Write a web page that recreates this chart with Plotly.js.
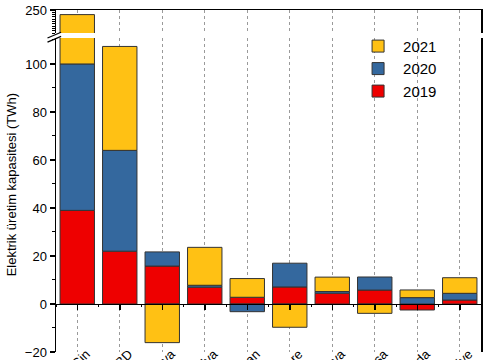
<!DOCTYPE html>
<html>
<head>
<meta charset="utf-8">
<script src="https://cdn.plot.ly/plotly-3.0.1.min.js"></script>
<style>html,body{margin:0;padding:0;overflow:hidden;background:#fff}</style>
</head>
<body>
<div id="chart" style="width:485px;height:400px"></div>
<script>
// Data (TWh change per year)
const categories = ["Çin","ABD","Almanya","Brezilya","Hindistan","İngiltere","İspanya","Fransa","Kanada","Türkiye"];
const years = ["2019","2020","2021"];
const v2019 = [39, 22, 15.8, 7.0, 2.8, 7.1, 4.5, 5.8, -2.5, 1.65];
const v2020 = [61, 42, 5.9, 0.8, -3.2, 9.9, 0.7, 5.45, 2.65, 2.8];
const v2021 = [148, 43.3, -16.1, 15.8, 7.8, -9.7, 6.0, -3.9, 3.2, 6.5];
const colors = ["#EE0000", "#34689E", "#FFC114"];
const yTickVals = [-20, 0, 20, 40, 60, 80, 100];
const yTopTickVals = [250];

const series = [v2019, v2020, v2021];
const FONT = "Arial, 'Liberation Sans', sans-serif";

const lowerRange = [-20, 110.8];
const upperRange = [240, 250];
const lowerDomain = [0, 0.918];
const upperDomain = [0.9327, 1];

const traces = [];
series.forEach((vals, i) => {
  const base = {
    type: "bar", x: categories, y: vals, name: years[i],
    marker: {color: colors[i], line: {color: "#333333", width: 1}},
    hoverinfo: "x+y+name"
  };
  traces.push(Object.assign({}, base, {xaxis: "x", yaxis: "y", legendgroup: years[i]}));
  traces.push(Object.assign({}, base, {xaxis: "x2", yaxis: "y2", legendgroup: years[i], showlegend: false}));
});
// carrier (draws nothing) so that the zero-position category axis with ticks is laid out
traces.push({
  type: "scatter", mode: "none", x: categories.map((c, i) => i), y: v2019,
  xaxis: "x3", yaxis: "y", showlegend: false, hoverinfo: "skip"
});

const zeroPos = lowerDomain[0] + (lowerDomain[1] - lowerDomain[0]) * (0 - lowerRange[0]) / (lowerRange[1] - lowerRange[0]);

const layout = {
  width: 485, height: 400,
  margin: {l: 56, r: 4, t: 10, b: 48},
  paper_bgcolor: "#fff", plot_bgcolor: "#fff",
  font: {family: FONT, size: 13, color: "#000"},
  barmode: "relative",
  bargap: 0.19,
  showlegend: true,
  legend: {
    x: 0.699, y: 0.942, xanchor: "left", yanchor: "top",
    traceorder: "reversed", font: {family: FONT, size: 15, color: "#000"},
    bgcolor: "rgba(0,0,0,0)", tracegroupgap: 0, itemwidth: 40
  },
  xaxis: {
    type: "category", categoryorder: "array", categoryarray: categories,
    anchor: "y", domain: [0, 1], range: [-0.5, categories.length - 0.5],
    showline: false, ticks: "", tickangle: -45,
    ticklabelstandoff: -9, ticklabelshift: 9,
    showgrid: true, gridcolor: "#9a9a9a", griddash: "dot", gridwidth: 1,
    zeroline: false, tickfont: {family: FONT, size: 13, color: "#000"}
  },
  xaxis2: {
    matches: "x", anchor: "y2", side: "top", domain: [0, 1],
    showline: true, linecolor: "#000", linewidth: 1.5,
    ticks: "", showticklabels: false,
    showgrid: true, gridcolor: "#9a9a9a", griddash: "dot", gridwidth: 1, zeroline: false
  },
  xaxis3: {
    type: "linear", overlaying: "x", anchor: "free", position: zeroPos,
    range: [-0.5, categories.length - 0.5], tick0: 0, dtick: 1,
    showline: true, linecolor: "#000", linewidth: 1.5,
    ticks: "outside", ticklen: 5, tickwidth: 1.5, tickcolor: "#000",
    minor: {ticks: "outside", ticklen: 2, tickwidth: 1, tickcolor: "#000", tick0: 0, dtick: 0.5},
    showticklabels: false, showgrid: false, zeroline: false
  },
  yaxis: {
    anchor: "x", domain: lowerDomain, range: lowerRange,
    tickvals: yTickVals, ticks: "outside", ticklen: 5, tickwidth: 1.5, tickcolor: "#000",
    minor: {ticks: "outside", ticklen: 3, tickwidth: 1, tickcolor: "#000", dtick: 10, tick0: 0},
    showline: true, linecolor: "#000", linewidth: 1.5, mirror: true,
    showgrid: false, zeroline: false,
    tickfont: {family: FONT, size: 13, color: "#000"}
  },
  yaxis2: {
    anchor: "x2", domain: upperDomain, range: upperRange,
    tickvals: yTopTickVals, ticks: "outside", ticklen: 5, tickwidth: 1.5, tickcolor: "#000",
    minor: {ticks: "outside", ticklen: 3, tickwidth: 1, tickcolor: "#000", dtick: 1, tick0: 0},
    showline: true, linecolor: "#000", linewidth: 1.5, mirror: true,
    showgrid: false, zeroline: false,
    tickfont: {family: FONT, size: 13, color: "#000"}
  },
  annotations: [{
    text: "Elektrik üretim kapasitesi (TWh)", xref: "paper", yref: "paper",
    x: -0.106, y: 0.49, xanchor: "center", yanchor: "middle", textangle: -90,
    showarrow: false, font: {family: FONT, size: 13, color: "#000"}
  }],
  shapes: [
    {type: "line", xref: "paper", yref: "paper", x0: -0.02, y0: 0.918, x1: 0.012, y1: 0.935, line: {color: "#000", width: 1.2}},
    {type: "line", xref: "paper", yref: "paper", x0: -0.02, y0: 0.906, x1: 0.012, y1: 0.923, line: {color: "#000", width: 1.2}}
  ]
};

Plotly.newPlot("chart", traces, layout, {displayModeBar: false, staticPlot: true});
</script>
</body>
</html>
